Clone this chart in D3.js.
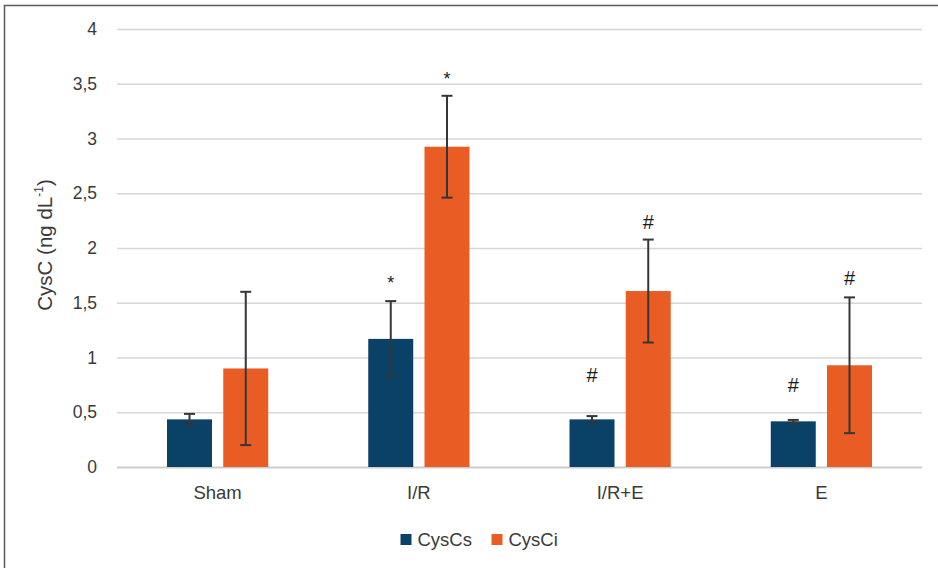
<!DOCTYPE html>
<html>
<head>
<meta charset="utf-8">
<script src="https://cdn.jsdelivr.net/npm/d3@7"></script>
<style>
  html, body { margin: 0; padding: 0; background: #fff; }
  svg { display: block; font-family: "Liberation Sans", Arial, sans-serif; }
</style>
</head>
<body>
<svg id="chart" width="938" height="568"></svg>
<script>
// Groups and series
const groups = ["Sham", "I/R", "I/R+E", "E"];
const series = ["CysCs", "CysCi"];
const seriesColors = ["#0a4166", "#e95d25"];

// Means and error (±) per group
const cysCs = [0.435, 1.17, 0.435, 0.417];
const cysCsErr = [0.05, 0.345, 0.03, 0.013];
const cysCi = [0.90, 2.925, 1.607, 0.929];
const cysCiErr = [0.70, 0.465, 0.47, 0.62];

// Significance marks and the level (in data units) they sit at
const cysCsMarks = ["", "*", "#", "#"];
const cysCsMarkLevel = [0, 1.714, 0.84, 0.755];
const cysCiMarks = ["", "*", "#", "#"];
const cysCiMarkLevel = [0, 3.58, 2.24, 1.73];

// Y axis ticks
const yTicks = [0, 0.5, 1, 1.5, 2, 2.5, 3, 3.5, 4];
const yTickLabels = ["0", "0,5", "1", "1,5", "2", "2,5", "3", "3,5", "4"];

const values = [cysCs, cysCi];
const errors = [cysCsErr, cysCiErr];
const marks = [cysCsMarks, cysCiMarks];
const markLevels = [cysCsMarkLevel, cysCiMarkLevel];

const svg = d3.select("#chart");
const plotLeft = 117, plotRight = 922, plotTop = 29, plotBottom = 467;
const textColor = "#3a3a3a";

// Outer frame (top and left edges visible)
svg.append("path")
  .attr("d", "M4.5,568 L4.5,5.5 L938,5.5")
  .attr("fill", "none").attr("stroke", "#5a5a5a").attr("stroke-width", 1.5);

const x0 = d3.scaleBand().domain(groups).range([plotLeft, plotRight]).padding(0);
const x1 = d3.scaleBand().domain(series).range([0, x0.bandwidth()])
  .paddingInner(0.2).paddingOuter(0.889);
const y = d3.scaleLinear().domain([0, 4]).range([plotBottom, plotTop]);

// Gridlines + tick labels
const yAxis = d3.axisLeft(y)
  .tickValues(yTicks)
  .tickFormat((d, i) => yTickLabels[i])
  .tickSize(-(plotRight - plotLeft))
  .tickPadding(20);

const gy = svg.append("g").attr("transform", `translate(${plotLeft},0)`).call(yAxis);
gy.select(".domain").remove();
gy.selectAll(".tick line").attr("stroke", "#d6d6d6").attr("stroke-width", 1.6);
gy.selectAll(".tick text")
  .attr("fill", textColor).attr("font-size", 17.5)
  .attr("font-family", "Liberation Sans, Arial, sans-serif");
gy.selectAll(".tick").filter(d => d === 0).select("line")
  .attr("stroke", "#cccccc").attr("stroke-width", 2);

// Y axis title
const title = svg.append("text")
  .attr("transform", "translate(52,245) rotate(-90)")
  .attr("text-anchor", "middle")
  .attr("fill", textColor).attr("font-size", 20.5);
title.append("tspan").text("CysC (ng dL");
title.append("tspan").attr("font-size", 12).attr("dy", -9).text("-1");
title.append("tspan").attr("dy", 9).text(")");

// Bars
const gGroups = svg.append("g").selectAll("g")
  .data(groups).join("g")
  .attr("transform", d => `translate(${x0(d)},0)`);

series.forEach((s, si) => {
  gGroups.append("rect")
    .attr("x", x1(s))
    .attr("width", x1.bandwidth())
    .attr("y", (d, gi) => y(values[si][gi]))
    .attr("height", (d, gi) => y(0) - y(values[si][gi]))
    .attr("fill", seriesColors[si]);
});

// Error bars
series.forEach((s, si) => {
  const cx = x1(s) + x1.bandwidth() / 2;
  const eb = gGroups.append("g").attr("stroke", "#363636").attr("stroke-width", 2).attr("fill", "none");
  eb.append("line")
    .attr("x1", cx).attr("x2", cx)
    .attr("y1", (d, gi) => y(values[si][gi] + errors[si][gi]))
    .attr("y2", (d, gi) => y(values[si][gi] - errors[si][gi]));
  [1, -1].forEach(sign => {
    eb.append("line")
      .attr("x1", cx - 5.5).attr("x2", cx + 5.5)
      .attr("y1", (d, gi) => y(values[si][gi] + sign * errors[si][gi]))
      .attr("y2", (d, gi) => y(values[si][gi] + sign * errors[si][gi]));
  });
});

// Significance marks
series.forEach((s, si) => {
  const cx = x1(s) + x1.bandwidth() / 2;
  gGroups.append("text")
    .attr("x", cx)
    .attr("y", (d, gi) => {
      const m = marks[si][gi];
      return y(markLevels[si][gi]) + (m === "*" ? 0.56 * 18 : 0.36 * 20);
    })
    .attr("text-anchor", "middle")
    .attr("font-size", (d, gi) => marks[si][gi] === "*" ? 18 : 20)
    .attr("fill", "#1a1a1a")
    .text((d, gi) => marks[si][gi]);
});

// Category labels
svg.append("g").selectAll("text")
  .data(groups).join("text")
  .attr("x", d => x0(d) + x0.bandwidth() / 2)
  .attr("y", 499)
  .attr("text-anchor", "middle")
  .attr("fill", textColor).attr("font-size", 18.5)
  .text(d => d);

// Legend
const legendItems = [
  { name: series[0], color: seriesColors[0], x: 400.5 },
  { name: series[1], color: seriesColors[1], x: 491.5 }
];
const lg = svg.append("g").selectAll("g").data(legendItems).join("g")
  .attr("transform", d => `translate(${d.x},534)`);
lg.append("rect").attr("width", 11).attr("height", 11).attr("fill", d => d.color);
lg.append("text")
  .attr("x", 17).attr("y", 12)
  .attr("fill", textColor).attr("font-size", 18.5)
  .text(d => d.name);
</script>
</body>
</html>
